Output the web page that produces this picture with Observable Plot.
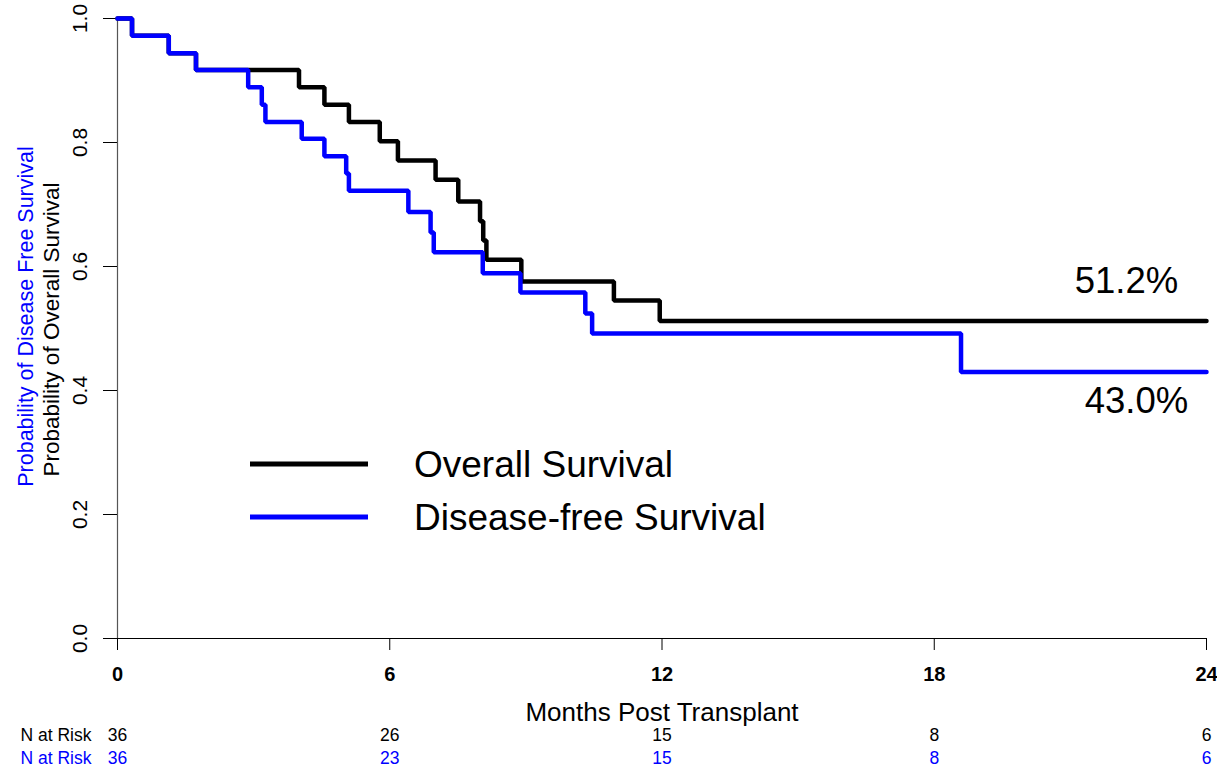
<!DOCTYPE html>
<html>
<head>
<meta charset="utf-8">
<script src="https://cdn.jsdelivr.net/npm/d3@7"></script>
<script src="https://cdn.jsdelivr.net/npm/@observablehq/plot@0.6"></script>
<style>
  html, body { margin: 0; padding: 0; background: #fff; }
  #wrap { position: relative; width: 1217px; height: 768px; font-family: "Liberation Sans", Arial, sans-serif; }
  #legend { position: absolute; left: 0; top: 0; pointer-events: none; }
</style>
</head>
<body>
<div id="wrap"></div>
<script>
// Overall survival (Kaplan-Meier steps)
const osTimes  = [0, 0.32, 1.13, 1.73, 4.0, 4.56, 5.1, 5.78, 6.18, 7.01, 7.51, 7.99, 8.06, 8.13, 8.9, 10.94, 11.95, 24];
const osValues = [1.0, 0.972, 0.944, 0.917, 0.889, 0.861, 0.833, 0.802, 0.771, 0.740, 0.705, 0.673, 0.642, 0.611, 0.576, 0.545, 0.512, 0.512];
// Disease-free survival
const dfsTimes  = [0, 0.32, 1.13, 1.73, 2.88, 3.18, 3.26, 4.06, 4.56, 5.04, 5.1, 6.41, 6.9, 6.97, 8.05, 8.88, 10.31, 10.46, 18.59, 24];
const dfsValues = [1.0, 0.972, 0.944, 0.917, 0.889, 0.861, 0.833, 0.806, 0.778, 0.750, 0.722, 0.688, 0.655, 0.623, 0.589, 0.558, 0.524, 0.492, 0.430, 0.430];
// Axis ticks
const xTicks = [0, 6, 12, 18, 24];
const yTicks = [0, 0.2, 0.4, 0.6, 0.8, 1.0];
// Numbers at risk
const riskTimes = [0, 6, 12, 18, 24];
const riskOS  = [36, 26, 15, 8, 6];
const riskDFS = [36, 23, 15, 8, 6];
// Labels
const seriesNames = ["Overall Survival", "Disease-free Survival"];
const seriesColors = ["#000000", "#0000ff"];

const os = osTimes.map((t, i) => ({t, s: osValues[i]}));
const dfs = dfsTimes.map((t, i) => ({t, s: dfsValues[i]}));
const riskRows = riskTimes.map((t, i) => ({t, os: riskOS[i], dfs: riskDFS[i]}));
const FONT = '"Liberation Sans", Arial, sans-serif';

const chart = Plot.plot({
  width: 1217,
  height: 768,
  marginLeft: 117,
  marginRight: 11,
  marginTop: 18,
  marginBottom: 130,
  style: {fontFamily: FONT, background: "#fff", overflow: "visible", color: "#000"},
  x: {domain: [0, 24]},
  y: {domain: [0, 1]},
  marks: [
    Plot.ruleX([0], {y1: 0, y2: 1, stroke: "#555", strokeWidth: 1.2}),
    Plot.ruleY([0], {x1: 0, x2: 24, stroke: "#000", strokeWidth: 1.2}),
    Plot.axisY({ticks: yTicks, tickSize: 14, tickFormat: () => "", label: null, stroke: "#000"}),
    Plot.text(yTicks, {y: d => d, text: d => d.toFixed(1), frameAnchor: "left", textAnchor: "middle", dx: -37, rotate: -90, fontSize: 21, fill: "#000"}),
    Plot.axisX({ticks: xTicks, tickSize: 12, tickFormat: () => "", label: null, stroke: "#000"}),
    Plot.text(xTicks, {x: d => d, text: d => String(d), frameAnchor: "bottom", dy: 42, fontSize: 20, fontWeight: "bold", fill: "#000"}),
    Plot.lineY(os, {x: "t", y: "s", curve: "step-after", stroke: seriesColors[0], strokeWidth: 4.5, strokeLinejoin: "miter"}),
    Plot.lineY(dfs, {x: "t", y: "s", curve: "step-after", stroke: seriesColors[1], strokeWidth: 4.5, strokeLinejoin: "miter"}),
    Plot.text([os[os.length - 1]], {x: "t", y: "s", text: d => (d.s * 100).toFixed(1) + "%", dx: -80, dy: -40, fontSize: 36.5, fill: "#000"}),
    Plot.text([dfs[dfs.length - 1]], {x: "t", y: "s", text: d => (d.s * 100).toFixed(1) + "%", dx: -70, dy: 29, fontSize: 36.5, fill: "#000"}),
    Plot.text(["Probability of Overall Survival"], {frameAnchor: "left", textAnchor: "middle", dx: -66, dy: 1, rotate: -90, fontSize: 22.5, fill: seriesColors[0]}),
    Plot.text(["Probability of Disease Free Survival"], {frameAnchor: "left", textAnchor: "middle", dx: -91, dy: -12, rotate: -90, fontSize: 21.5, fill: seriesColors[1]}),
    Plot.text(["Months Post Transplant"], {frameAnchor: "bottom", dy: 82, fontSize: 26, fill: "#000"}),
    Plot.text(["N at Risk"], {frameAnchor: "bottom-left", dx: -97, dy: 102, textAnchor: "start", fontSize: 17.5, fill: seriesColors[0]}),
    Plot.text(["N at Risk"], {frameAnchor: "bottom-left", dx: -97, dy: 125, textAnchor: "start", fontSize: 17.5, fill: seriesColors[1]}),
    Plot.text(riskRows, {x: "t", text: "os", frameAnchor: "bottom", dy: 102, fontSize: 17.5, fill: seriesColors[0]}),
    Plot.text(riskRows, {x: "t", text: "dfs", frameAnchor: "bottom", dy: 125, fontSize: 17.5, fill: seriesColors[1]})
  ]
});
const wrap = document.getElementById("wrap");
wrap.appendChild(chart);

// Legend overlay
const ns = "http://www.w3.org/2000/svg";
const leg = document.createElementNS(ns, "svg");
leg.setAttribute("id", "legend");
leg.setAttribute("width", 1217);
leg.setAttribute("height", 768);
const legY = [464, 517];
seriesNames.forEach((name, i) => {
  const ln = document.createElementNS(ns, "line");
  ln.setAttribute("x1", 250); ln.setAttribute("x2", 368);
  ln.setAttribute("y1", legY[i]); ln.setAttribute("y2", legY[i]);
  ln.setAttribute("stroke", seriesColors[i]); ln.setAttribute("stroke-width", 5);
  leg.appendChild(ln);
  const tx = document.createElementNS(ns, "text");
  tx.setAttribute("x", 414); tx.setAttribute("y", legY[i]);
  tx.setAttribute("dy", "0.35em");
  tx.setAttribute("font-family", FONT);
  tx.setAttribute("font-size", 37);
  tx.setAttribute("fill", "#000");
  tx.textContent = name;
  leg.appendChild(tx);
});
wrap.appendChild(leg);
</script>
</body>
</html>
